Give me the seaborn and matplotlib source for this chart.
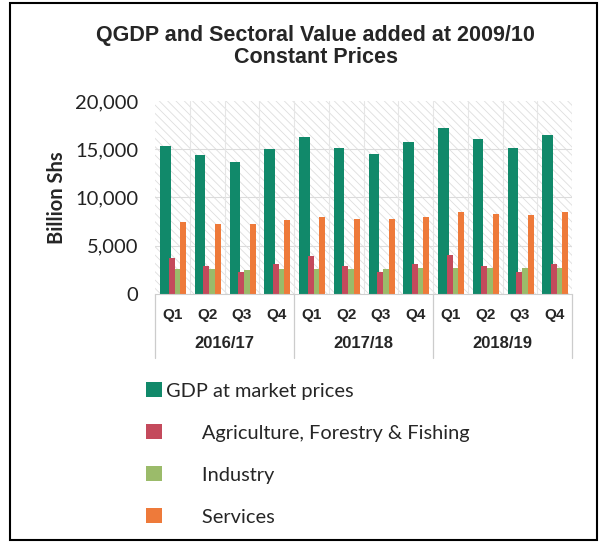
import matplotlib
matplotlib.use('Agg')
import matplotlib.pyplot as plt
import seaborn as sns
import pandas as pd
from matplotlib.patches import Patch, Rectangle

# datos (billion Shs, precios constantes 2009/10)
years = ['2016/17', '2017/18', '2018/19']
quarters = ['Q1', 'Q2', 'Q3', 'Q4']
series = ['GDP at market prices', 'Agriculture, Forestry & Fishing', 'Industry', 'Services']

gdp = [15340, 14400, 13700, 15000, 16240, 15130, 14480, 15720, 17170, 16060, 15160, 16480]
agri = [3700, 2900, 2280, 3110, 3940, 2940, 2280, 3080, 4040, 2940, 2280, 3110]
industry = [2550, 2550, 2490, 2550, 2550, 2630, 2600, 2700, 2700, 2660, 2660, 2700]
services = [7460, 7250, 7250, 7670, 8010, 7800, 7800, 8010, 8530, 8290, 8150, 8460]

colors = ['#11896a', '#c44a5c', '#9bbb6a', '#ee7a3a']
offsets = [-0.20, -0.02, 0.145, 0.31]
widths = [0.30, 0.17, 0.16, 0.17]

sns.set_style('white')
plt.rcParams['font.family'] = ['Liberation Sans', 'DejaVu Sans']
plt.rcParams['hatch.linewidth'] = 0.6

fig = plt.figure(figsize=(5.99, 5.44), dpi=100)
ax = fig.add_axes([155 / 599, 1 - 294 / 544, 417 / 599, 193 / 544])

# fondo rayado
ax.patch.set_facecolor('white')
ax.patch.set_hatch('\\\\\\\\')
ax.patch.set_edgecolor('#dedede')
ax.patch.set_linewidth(0)

n = len(years) * len(quarters)
rows = []
for s, vals in zip(series, [gdp, agri, industry, services]):
    for i, v in enumerate(vals):
        rows.append({'series': s, 'idx': i, 'value': v})
df = pd.DataFrame(rows)

for s, c, off, w in zip(series, colors, offsets, widths):
    sub = df[df['series'] == s].copy()
    sub['pos'] = sub['idx'] + off
    sns.barplot(data=sub, x='pos', y='value', native_scale=True, width=w,
                color=c, saturation=1, errorbar=None, ax=ax, linewidth=0)

ax.set_xlim(-0.5, n - 0.5)
ax.set_ylim(0, 20000)
ax.set_yticks([0, 5000, 10000, 15000, 20000])
ax.set_yticklabels(['0', '5,000', '10,000', '15,000', '20,000'],
                   family='Lato', fontsize=14.5, color='#222222')
ax.set_xticks(range(n))
ax.set_xticklabels(quarters * len(years), fontweight='bold', fontsize=11)
ax.tick_params(axis='x', length=0, pad=10)
ax.tick_params(axis='y', length=0, pad=12)
ax.set_xlabel('')
ax.set_ylabel('Billion Shs', family='Lato', fontweight='bold', fontsize=14.5, labelpad=6)

for y in [5000, 10000, 15000]:
    ax.axhline(y, color='#dcdcdc', lw=0.8, zorder=0.5)
for x in range(n):
    ax.axvline(x + 0.5, color='#e6e6e6', lw=0.8, zorder=0.5)

for sp in ['top', 'right', 'left']:
    ax.spines[sp].set_visible(False)
ax.spines['bottom'].set_color('#cfcfcf')

# separadores de anos y etiquetas
trans = ax.get_xaxis_transform()
for k in range(len(years) + 1):
    ax.plot([4 * k - 0.5, 4 * k - 0.5], [0, -0.33], transform=trans,
            color='#cccccc', lw=0.9, clip_on=False)
for k, yr in enumerate(years):
    ax.text(4 * k + 1.5, -0.255, yr, transform=trans, ha='center', va='center',
            fontweight='bold', fontsize=12)

fig.text(0.527, 0.915, 'QGDP and Sectoral Value added at 2009/10\nConstant Prices',
         ha='center', va='center', fontweight='bold', fontsize=15.5, linespacing=1.05)

handles = [Patch(facecolor=c, edgecolor='none') for c in colors]
labels = [series[0]] + ['       ' + s for s in series[1:]]
ax.legend(handles, labels, loc='upper left', bbox_to_anchor=(128 / 599, 1 - 364 / 544),
          bbox_transform=fig.transFigure, frameon=False, handlelength=0.8,
          handleheight=0.8, handletextpad=0.2, labelspacing=1.22,
          prop={'family': 'Lato', 'size': 14.4})

fig.patches.append(Rectangle((10 / 599, 4 / 544), 587 / 599, 537 / 544,
                             transform=fig.transFigure, fill=False,
                             edgecolor='black', lw=1.5))

fig.savefig('out.png', dpi=100)
